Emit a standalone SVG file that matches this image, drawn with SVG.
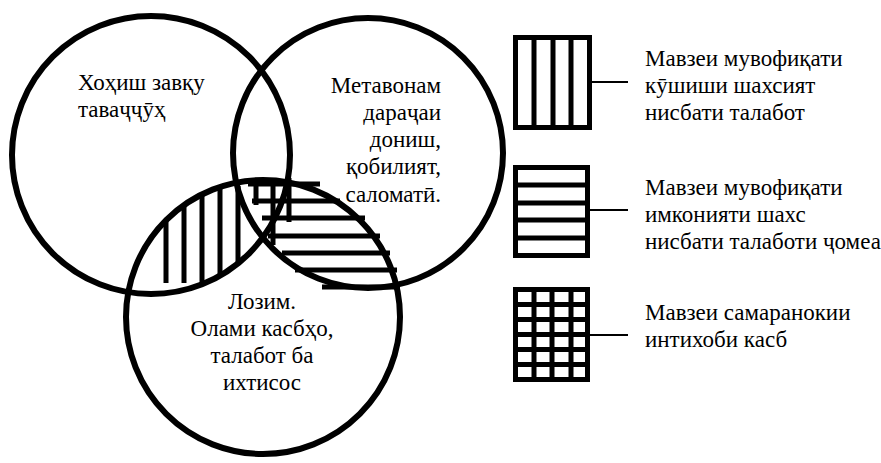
<svg xmlns="http://www.w3.org/2000/svg" width="881" height="463" viewBox="0 0 881 463">
<style>
.c{fill:none;stroke:#000;stroke-width:6}
.h{stroke:#000;stroke-width:5;fill:none}
.b{fill:#fff;stroke:#000;stroke-width:5}
.k{stroke:#000;stroke-width:2}
text{font-family:'Liberation Serif',serif !important;font-size:23px;fill:#000}
</style>
<rect width="881" height="463" fill="#fff"/>
<g id="hatching">
<path class="h" d="M166 220V283M184 205V283M202 194V283M220 187V276M238 186V264"/>
<path class="h" d="M248 184H320M252 201H340M262 218H365M268 236H380M282 253H390M295 270H397M322 287H400"/>
<path class="h" d="M256 178V205M273 178V245M289 178V222"/>
</g>
<g id="circle-wish">
<circle class="c" cx="151" cy="155" r="139"/>
<text font-family="Liberation Serif" x="78" y="90">Хоҳиш завқу</text>
<text font-family="Liberation Serif" x="78" y="117">таваҷҷӯҳ</text>
</g>
<g id="circle-ability">
<circle class="c" cx="368" cy="153" r="135"/>
<text font-family="Liberation Serif" text-anchor="end" x="441" y="93">Метавонам</text>
<text font-family="Liberation Serif" text-anchor="end" x="441" y="120">дараҷаи</text>
<text font-family="Liberation Serif" text-anchor="end" x="441" y="147">дониш,</text>
<text font-family="Liberation Serif" text-anchor="end" x="441" y="174">қобилият,</text>
<text font-family="Liberation Serif" text-anchor="end" x="441" y="202">саломатӣ.</text>
</g>
<g id="circle-need">
<circle class="c" cx="263" cy="317" r="137" stroke-width="5"/>
<text font-family="Liberation Serif" text-anchor="middle" x="262" y="309">Лозим.</text>
<text font-family="Liberation Serif" text-anchor="middle" x="262" y="336">Олами касбҳо,</text>
<text font-family="Liberation Serif" text-anchor="middle" x="262" y="363">талабот ба</text>
<text font-family="Liberation Serif" text-anchor="middle" x="262" y="390">ихтисос</text>
</g>
<g id="legend-1">
<rect class="b" x="515.5" y="37.5" width="74" height="90"/>
<path class="h" d="M534 37.5V127.5M553 37.5V127.5M571 37.5V127.5"/>
<text font-family="Liberation Serif" x="645" y="66">Мавзеи мувофиқати</text>
<text font-family="Liberation Serif" x="645" y="93">кӯшиши шахсият</text>
<text font-family="Liberation Serif" x="645" y="120">нисбати талабот</text>
</g>
<g id="legend-2">
<rect class="b" x="515.5" y="167.5" width="72" height="88"/>
<path class="h" d="M515.5 185H587.5M515.5 203H587.5M515.5 220H587.5M515.5 238H587.5"/>
<text font-family="Liberation Serif" x="645" y="195">Мавзеи мувофиқати</text>
<text font-family="Liberation Serif" x="645" y="222">имконияти шахс</text>
<text font-family="Liberation Serif" x="645" y="249">нисбати талаботи ҷомеа</text>
</g>
<g id="legend-3">
<rect class="b" x="515.5" y="289.5" width="72" height="90"/>
<path class="h" d="M534 289.5V379.5M552 289.5V379.5M571 289.5V379.5M515.5 304.5H587.5M515.5 319.5H587.5M515.5 334.5H587.5M515.5 349.5H587.5M515.5 364.5H587.5"/>
<text font-family="Liberation Serif" x="645" y="320">Мавзеи самаранокии</text>
<text font-family="Liberation Serif" x="645" y="347">интихоби касб</text>
</g>
<g id="connectors">
<line class="k" x1="592" y1="82" x2="628" y2="82"/>
<line class="k" x1="590" y1="210" x2="628" y2="210"/>
<line class="k" x1="590" y1="335" x2="628" y2="335"/>
</g>
</svg>
